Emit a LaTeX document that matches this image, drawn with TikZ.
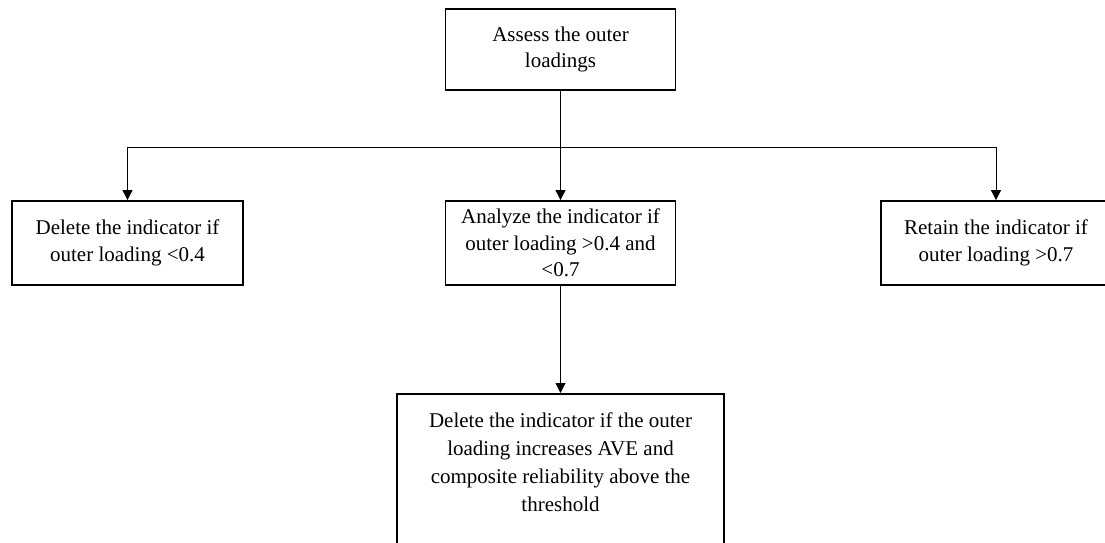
\documentclass[tikz,border=0pt]{standalone}
\usepackage{fontspec}
\setmainfont{Liberation Serif}
\usetikzlibrary{arrows.meta}
\begin{document}
\begin{tikzpicture}[x=1pt,y=-1pt,
  box/.style={draw, line width=1.8pt, rectangle, inner sep=2pt, align=center,
    font=\fontsize{21}{26.5}\selectfont},
  conn/.style={line width=1pt, -{Triangle[width=10pt,length=10pt]}},
  plain/.style={line width=1pt}]
\useasboundingbox (0,0) rectangle (1105,543);
\clip (0,0) rectangle (1105,543);
\node[box, minimum width=230, minimum height=81] (top) at (560.5,49.5) {Assess the outer\\loadings};
\node[box, minimum width=231, minimum height=84] (left) at (127.5,243) {Delete the indicator if\\outer loading {<}0.4};
\node[box, minimum width=230, minimum height=84] (mid) at (560.5,243) {Analyze the indicator if\\outer loading {>}0.4 and\\{<}0.7};
\node[box, minimum width=230, minimum height=84] (right) at (996,243) {Retain the indicator if\\outer loading {>}0.7};
\node[box, minimum width=327, minimum height=180, anchor=north] (bot) at (560.5,393) {};
\node[align=center, anchor=north, inner sep=0pt, font=\fontsize{21}{27.7}\selectfont] (bottext) at (560.5,413)
  {Delete the indicator if the outer\\loading increases AVE and\\composite reliability above the\\threshold};
\coordinate (j) at (560.5,147);
\draw[plain] (top.south) -- (j);
\draw[conn] (j) -- (mid.north);
\draw[conn] (j) -| (left.north);
\draw[conn] (j) -| (right.north);
\draw[conn] (mid.south) -- (bot.north);
\end{tikzpicture}
\end{document}
